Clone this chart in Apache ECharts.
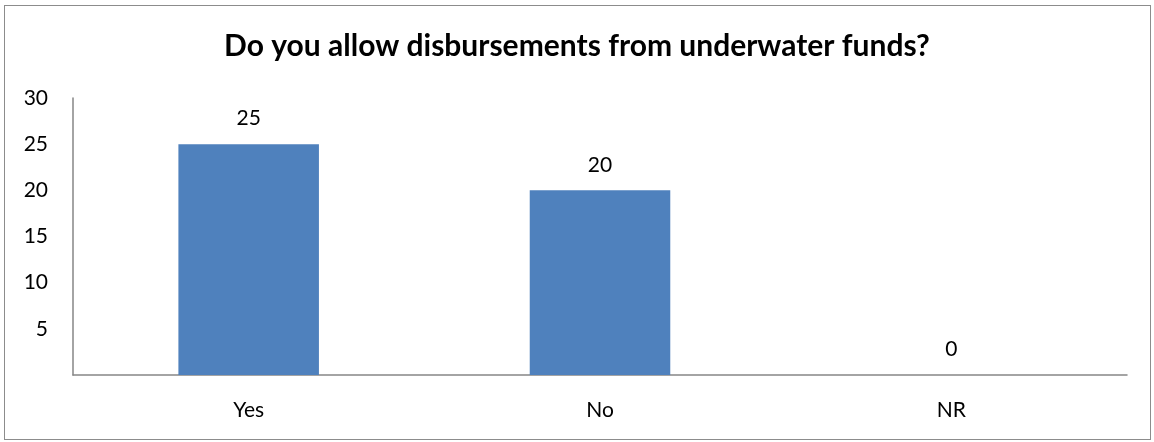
<!DOCTYPE html>
<html>
<head>
<meta charset="utf-8">
<script src="https://cdn.jsdelivr.net/npm/echarts@6/dist/echarts.min.js"></script>
<style>
html,body{margin:0;padding:0;background:#fff;}
#frame{position:absolute;left:4px;top:5px;width:1147px;height:435px;border:1px solid #8c8c8c;box-sizing:border-box;}
#chart{position:absolute;left:0;top:0;width:1154px;height:442px;}
</style>
</head>
<body>
<div id="frame"></div>
<div id="chart"></div>
<script>
const titleText = "Do you allow disbursements from underwater funds?";
const categories = ["Yes", "No", "NR"];
const values = [25, 20, 0];
const yTicks = [5, 10, 15, 20, 25, 30];

const chart = echarts.init(document.getElementById('chart'), null, {renderer: 'canvas'});
chart.setOption({
  animation: false,
  backgroundColor: 'transparent',
  title: {
    text: titleText,
    left: 'center',
    top: 26,
    textStyle: {fontFamily: 'Lato', fontWeight: 'bold', fontSize: 30, color: '#000'}
  },
  grid: {left: 73, right: 27, top: 98, bottom: 67, containLabel: false},
  xAxis: {
    type: 'category',
    data: categories,
    axisLine: {show: true, lineStyle: {color: '#868686', width: 1.5}},
    axisTick: {show: false},
    axisLabel: {fontFamily: 'Lato', fontSize: 21, color: '#000', margin: 25}
  },
  yAxis: {
    type: 'value',
    min: 0, max: 30, interval: 5,
    axisLine: {show: true, lineStyle: {color: '#868686', width: 1.5}},
    axisTick: {show: false},
    splitLine: {show: false},
    axisLabel: {
      fontFamily: 'Lato', fontSize: 21, color: '#000', margin: 25,
      formatter: function (v) { return yTicks.indexOf(v) >= 0 ? String(v) : ''; }
    }
  },
  series: [{
    type: 'bar',
    data: values,
    barWidth: '40%',
    itemStyle: {color: '#4F81BD'},
    label: {show: true, position: 'top', distance: 15, fontFamily: 'Lato', fontSize: 21, color: '#000'}
  }]
});
</script>
</body>
</html>
